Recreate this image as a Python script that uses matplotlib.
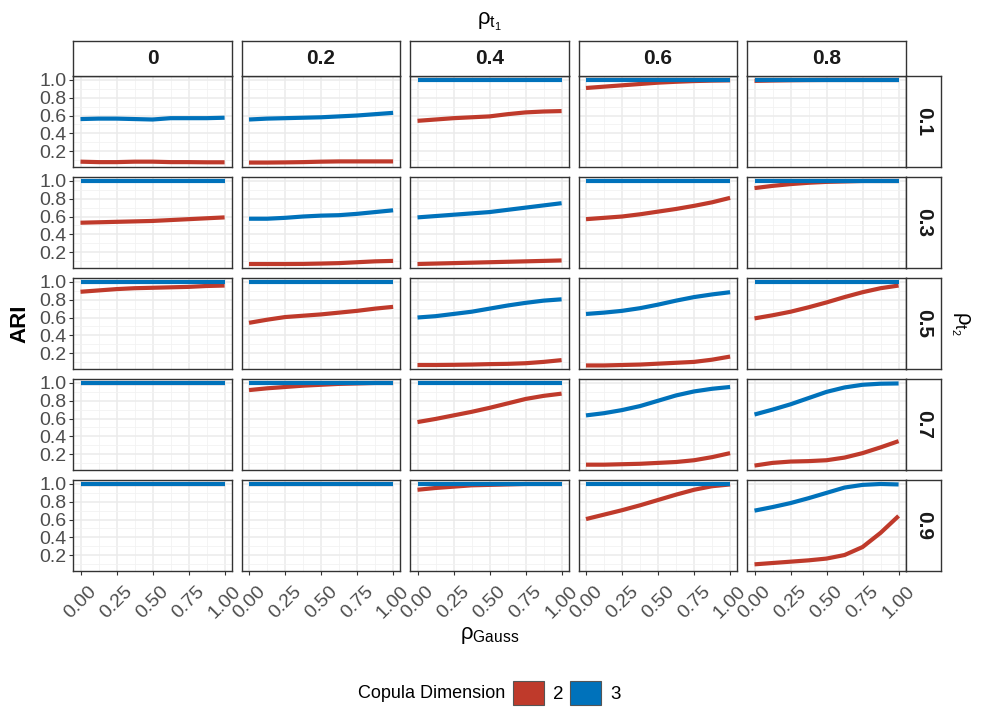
import matplotlib

matplotlib.use("Agg")

import matplotlib.pyplot as plt
from matplotlib.patches import Patch
from matplotlib.ticker import FixedLocator

plt.rcParams["font.family"] = ["Liberation Sans", "DejaVu Sans"]
plt.rcParams["mathtext.fontset"] = "custom"
plt.rcParams["mathtext.rm"] = "Liberation Sans"
plt.rcParams["mathtext.it"] = "Liberation Sans:italic"
plt.rcParams["mathtext.bf"] = "Liberation Sans:bold"

# facet levels
rho_t1 = ["0", "0.2", "0.4", "0.6", "0.8"]   # columns
rho_t2 = ["0.1", "0.3", "0.5", "0.7", "0.9"]  # rows
dims = ["2", "3"]
colors = {"2": "#BF3A2B", "3": "#0072BB"}

rho_gauss = [0.0, 0.125, 0.25, 0.375, 0.5, 0.625, 0.75, 0.875, 1.0]

# ARI, one list per column (rho_t1) for each row (rho_t2)
ari2_t2_01 = [
    [0.080, 0.075, 0.075, 0.080, 0.080, 0.075, 0.075, 0.073, 0.073],
    [0.070, 0.070, 0.072, 0.075, 0.080, 0.083, 0.083, 0.083, 0.083],
    [0.540, 0.555, 0.570, 0.580, 0.590, 0.615, 0.635, 0.645, 0.650],
    [0.910, 0.925, 0.940, 0.955, 0.970, 0.980, 0.988, 0.993, 0.996],
    [0.990, 0.994, 0.997, 0.999, 1.000, 1.000, 1.000, 1.000, 1.000],
]
ari3_t2_01 = [
    [0.560, 0.565, 0.565, 0.560, 0.555, 0.570, 0.570, 0.570, 0.575],
    [0.555, 0.565, 0.570, 0.575, 0.580, 0.590, 0.600, 0.615, 0.630],
    [1.000, 1.000, 1.000, 1.000, 1.000, 1.000, 1.000, 1.000, 1.000],
    [1.000, 1.000, 1.000, 1.000, 1.000, 1.000, 1.000, 1.000, 1.000],
    [1.000, 1.000, 1.000, 1.000, 1.000, 1.000, 1.000, 1.000, 1.000],
]
ari2_t2_03 = [
    [0.530, 0.535, 0.540, 0.545, 0.550, 0.560, 0.570, 0.580, 0.590],
    [0.065, 0.065, 0.065, 0.066, 0.070, 0.075, 0.085, 0.095, 0.100],
    [0.065, 0.070, 0.075, 0.080, 0.085, 0.090, 0.095, 0.100, 0.105],
    [0.570, 0.585, 0.600, 0.625, 0.655, 0.685, 0.720, 0.760, 0.810],
    [0.920, 0.945, 0.965, 0.980, 0.990, 0.995, 1.000, 1.000, 1.000],
]
ari3_t2_03 = [
    [1.000, 1.000, 1.000, 1.000, 1.000, 1.000, 1.000, 1.000, 1.000],
    [0.575, 0.575, 0.585, 0.600, 0.610, 0.615, 0.630, 0.650, 0.670],
    [0.590, 0.605, 0.620, 0.635, 0.650, 0.675, 0.700, 0.725, 0.750],
    [1.000, 1.000, 1.000, 1.000, 1.000, 1.000, 1.000, 1.000, 1.000],
    [1.000, 1.000, 1.000, 1.000, 1.000, 1.000, 1.000, 1.000, 1.000],
]
ari2_t2_05 = [
    [0.890, 0.905, 0.920, 0.930, 0.935, 0.940, 0.945, 0.955, 0.960],
    [0.540, 0.575, 0.605, 0.620, 0.635, 0.655, 0.675, 0.700, 0.720],
    [0.065, 0.065, 0.067, 0.070, 0.075, 0.078, 0.085, 0.100, 0.120],
    [0.060, 0.060, 0.065, 0.070, 0.080, 0.090, 0.100, 0.125, 0.160],
    [0.590, 0.625, 0.665, 0.715, 0.770, 0.830, 0.885, 0.930, 0.960],
]
ari3_t2_05 = [
    [1.000, 1.000, 1.000, 1.000, 1.000, 1.000, 1.000, 1.000, 1.000],
    [1.000, 1.000, 1.000, 1.000, 1.000, 1.000, 1.000, 1.000, 1.000],
    [0.600, 0.615, 0.640, 0.665, 0.700, 0.735, 0.765, 0.790, 0.805],
    [0.640, 0.655, 0.675, 0.705, 0.745, 0.790, 0.830, 0.860, 0.885],
    [1.000, 1.000, 1.000, 1.000, 1.000, 1.000, 1.000, 1.000, 1.000],
]
ari2_t2_07 = [
    [1.000, 1.000, 1.000, 1.000, 1.000, 1.000, 1.000, 1.000, 1.000],
    [0.920, 0.940, 0.955, 0.970, 0.980, 0.990, 0.995, 1.000, 1.000],
    [0.560, 0.595, 0.635, 0.675, 0.720, 0.770, 0.820, 0.855, 0.880],
    [0.080, 0.080, 0.085, 0.090, 0.100, 0.110, 0.130, 0.165, 0.210],
    [0.070, 0.100, 0.115, 0.120, 0.130, 0.160, 0.210, 0.275, 0.345],
]
ari3_t2_07 = [
    [1.000, 1.000, 1.000, 1.000, 1.000, 1.000, 1.000, 1.000, 1.000],
    [1.000, 1.000, 1.000, 1.000, 1.000, 1.000, 1.000, 1.000, 1.000],
    [1.000, 1.000, 1.000, 1.000, 1.000, 1.000, 1.000, 1.000, 1.000],
    [0.635, 0.660, 0.695, 0.740, 0.800, 0.860, 0.905, 0.935, 0.955],
    [0.645, 0.700, 0.760, 0.830, 0.900, 0.950, 0.980, 0.992, 0.995],
]
ari2_t2_09 = [
    [1.000, 1.000, 1.000, 1.000, 1.000, 1.000, 1.000, 1.000, 1.000],
    [1.000, 1.000, 1.000, 1.000, 1.000, 1.000, 1.000, 1.000, 1.000],
    [0.935, 0.955, 0.970, 0.985, 0.990, 0.995, 1.000, 1.000, 1.000],
    [0.605, 0.655, 0.705, 0.760, 0.820, 0.880, 0.935, 0.975, 0.995],
    [0.095, 0.110, 0.125, 0.140, 0.160, 0.200, 0.290, 0.450, 0.640],
]
ari3_t2_09 = [
    [1.000, 1.000, 1.000, 1.000, 1.000, 1.000, 1.000, 1.000, 1.000],
    [1.000, 1.000, 1.000, 1.000, 1.000, 1.000, 1.000, 1.000, 1.000],
    [1.000, 1.000, 1.000, 1.000, 1.000, 1.000, 1.000, 1.000, 1.000],
    [1.000, 1.000, 1.000, 1.000, 1.000, 1.000, 1.000, 1.000, 1.000],
    [0.700, 0.740, 0.785, 0.840, 0.900, 0.960, 0.990, 1.000, 0.995],
]

ari = {
    "2": [ari2_t2_01, ari2_t2_03, ari2_t2_05, ari2_t2_07, ari2_t2_09],
    "3": [ari3_t2_01, ari3_t2_03, ari3_t2_05, ari3_t2_07, ari3_t2_09],
}

W, H = 982, 726
fig = plt.figure(figsize=(W / 100, H / 100), dpi=100)

# layout in pixels
x0, col_step, pw = 73.3, 168.5, 158.5
y0, row_step, ph = 76.0, 101.0, 91.0
strip = 35.3
border = "#333333"


def frac(x, y, w, h):
    return [x / W, 1 - (y + h) / H, w / W, h / H]


def strip_axes(rect):
    sax = fig.add_axes(rect)
    sax.set_xticks([])
    sax.set_yticks([])
    for s in sax.spines.values():
        s.set_color(border)
        s.set_linewidth(1.0)
    return sax


for r, t2 in enumerate(rho_t2):
    for c, t1 in enumerate(rho_t1):
        ax = fig.add_axes(frac(x0 + c * col_step, y0 + r * row_step, pw, ph))
        for d in dims:
            ax.plot(
                rho_gauss,
                ari[d][r][c],
                color=colors[d],
                lw=3.0,
                solid_capstyle="butt",
                solid_joinstyle="round",
                zorder=3,
            )
        ax.set_xlim(-0.05, 1.05)
        ax.set_ylim(0.02, 1.045)
        ax.xaxis.set_major_locator(FixedLocator([0, 0.25, 0.5, 0.75, 1.0]))
        ax.xaxis.set_minor_locator(FixedLocator([0.125, 0.375, 0.625, 0.875]))
        ax.yaxis.set_major_locator(FixedLocator([0.2, 0.4, 0.6, 0.8, 1.0]))
        ax.yaxis.set_minor_locator(FixedLocator([0.1, 0.3, 0.5, 0.7, 0.9]))
        ax.grid(True, which="major", color="#EBEBEB", lw=1.1, zorder=0)
        ax.grid(True, which="minor", color="#F2F2F2", lw=0.6, zorder=0)
        ax.set_axisbelow(True)
        for s in ax.spines.values():
            s.set_color(border)
            s.set_linewidth(1.0)
        ax.tick_params(which="minor", length=0)
        ax.tick_params(
            which="major",
            length=2.8,
            width=0.8,
            color=border,
            labelcolor="#4D4D4D",
            labelsize=14,
            pad=2,
        )
        if c == 0:
            ax.set_yticklabels(["0.2", "0.4", "0.6", "0.8", "1.0"])
        else:
            ax.tick_params(axis="y", length=0, labelleft=False)
        if r == len(rho_t2) - 1:
            ax.set_xticklabels(["0.00", "0.25", "0.50", "0.75", "1.00"], rotation=45)
            ax.tick_params(axis="x", pad=6)
        else:
            ax.tick_params(axis="x", length=0, labelbottom=False)

        if r == 0:
            sax = strip_axes(frac(x0 + c * col_step, y0 - strip, pw, strip))
            sax.text(0.5, 0.5, t1, ha="center", va="center", fontsize=15,
                     fontweight="bold", color="#1A1A1A", transform=sax.transAxes)
        if c == len(rho_t1) - 1:
            sax = strip_axes(frac(x0 + c * col_step + pw, y0 + r * row_step, strip, ph))
            sax.text(0.5, 0.5, t2, ha="center", va="center", fontsize=15,
                     fontweight="bold", color="#1A1A1A", rotation=-90,
                     transform=sax.transAxes)

mid_x = (x0 + 4 * col_step + pw + x0) / 2 / W
mid_y = 1 - (y0 + (4 * row_step + ph) / 2) / H

fig.text(mid_x, 1 - 22 / H, r"$\mathrm{\rho_{t_1}}$", ha="center", va="center", fontsize=16)
fig.text(mid_x, 1 - 635 / H, r"$\mathrm{\rho_{Gauss}}$", ha="center", va="center", fontsize=16)
fig.text(960 / W, mid_y, r"$\mathrm{\rho_{t_2}}$", ha="center", va="center",
         fontsize=16, rotation=-90)
fig.text(20 / W, mid_y, "ARI", ha="center", va="center", fontsize=16,
         fontweight="bold", rotation=90)

handles = [Patch(facecolor=colors[d], edgecolor="#555555", lw=0.8) for d in dims]
fig.legend(
    handles,
    dims,
    ncol=2,
    loc="center left",
    bbox_to_anchor=(513 / W, 1 - 693 / H),
    frameon=False,
    fontsize=13.5,
    handlelength=1.65,
    handleheight=1.65,
    handletextpad=0.5,
    columnspacing=0.35,
    borderpad=0,
    borderaxespad=0,
)
fig.text(505 / W, 1 - 693 / H, "Copula Dimension", ha="right", va="center", fontsize=13)

fig.savefig("out.png", dpi=100)
